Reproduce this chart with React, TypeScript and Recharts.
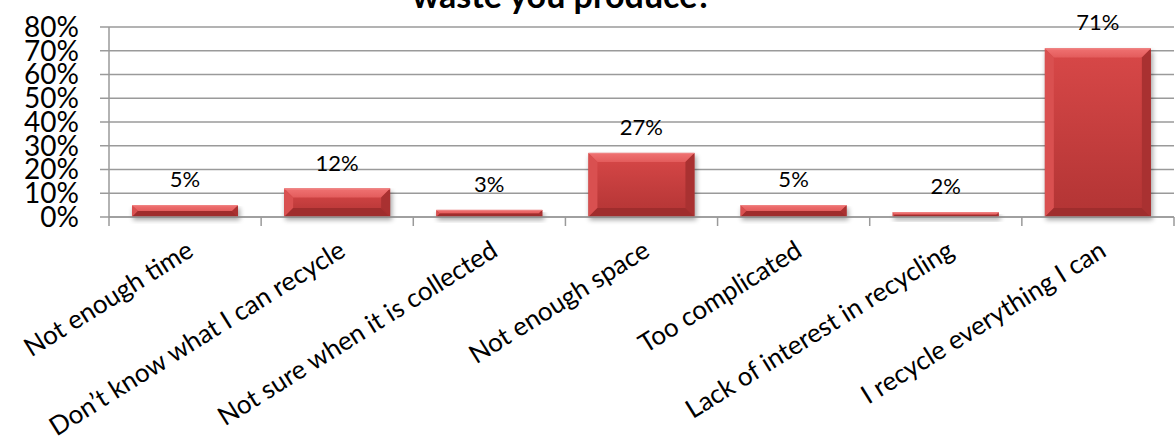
import React from 'react';
import { BarChart, Bar, XAxis, YAxis, CartesianGrid, LabelList } from 'recharts';

const categories = [
  'Not enough time',
  'Don\u2019t know what I can recycle',
  'Not sure when it is collected',
  'Not enough space',
  'Too complicated',
  'Lack of interest in recycling',
  'I recycle everything I can',
];
const shares = [5, 12, 3, 27, 5, 2, 71];
const yTicks = [0, 10, 20, 30, 40, 50, 60, 70, 80];

const W = 1176;
const H = 439;
const TOP = 27;
const AXIS_X = 109;
const RIGHT = 2;
const AXIS_Y = 217;
const BAND = (W - AXIS_X - RIGHT) / categories.length;
const FONT = 'Lato, "Open Sans", sans-serif';
const GRID = '#9a9a9a';

const data = categories.map((name, i) => ({ name, value: shares[i] }));

const BevelBar = (props: any) => {
  const { x, y, width, height } = props;
  if (!height || height <= 0) return null;
  const b = Math.min(9, height / 2, width / 2);
  const r = x + width;
  const bt = y + height;
  return (
    <g>
      <rect x={x + 1} y={y + 3} width={width + 1} height={height} fill="#000" opacity={0.35} filter="url(#barShadow)" />
      <rect x={x} y={y} width={width} height={height} fill="url(#barMain)" />
      <polygon points={`${x},${y} ${r},${y} ${r - b},${y + b} ${x + b},${y + b}`} fill="url(#barTop)" />
      <polygon points={`${x},${y} ${x + b},${y + b} ${x + b},${bt - b} ${x},${bt}`} fill="#d95050" />
      <polygon points={`${r},${y} ${r},${bt} ${r - b},${bt - b} ${r - b},${y + b}`} fill="#a93131" />
      <polygon points={`${x},${bt} ${x + b},${bt - b} ${r - b},${bt - b} ${r},${bt}`} fill="#9f2d2d" />
      <line x1={x} y1={y + 0.5} x2={r} y2={y + 0.5} stroke="#f08585" strokeWidth={1} />
    </g>
  );
};

const CategoryTick = (props: any) => {
  const { x, payload, index } = props;
  const left = x - BAND / 2;
  const ax = x + 10;
  const ay = AXIS_Y + 38;
  return (
    <g>
      <line x1={left} y1={AXIS_Y} x2={left} y2={AXIS_Y + 9} stroke={GRID} strokeWidth={1.5} />
      {index === categories.length - 1 && (
        <line x1={left + BAND} y1={AXIS_Y} x2={left + BAND} y2={AXIS_Y + 9} stroke={GRID} strokeWidth={1.5} />
      )}
      <text
        x={ax}
        y={ay}
        transform={`rotate(-32 ${ax} ${ay})`}
        textAnchor="end"
        fontSize={26}
        fontFamily={FONT}
        fill="#000"
      >
        {payload.value}
      </text>
    </g>
  );
};

const renderValue = (p: any) => (
  <text
    x={p.x + p.width / 2}
    y={p.y - 18}
    textAnchor="middle"
    fontSize={22}
    fontFamily={FONT}
    fill="#000"
  >
    {p.value}%
  </text>
);

export default function App() {
  return (
    <div style={{ position: 'absolute', left: 0, top: 0, width: W, height: H, background: '#fff' }}>
      <BarChart
        width={W}
        height={H}
        data={data}
        margin={{ top: TOP, right: RIGHT, left: 0, bottom: 0 }}
        barSize={106}
      >
        <defs>
          <linearGradient id="barMain" x1="0" y1="0" x2="0" y2="1">
            <stop offset="0%" stopColor="#d84848" />
            <stop offset="100%" stopColor="#b23434" />
          </linearGradient>
          <linearGradient id="barTop" x1="0" y1="0" x2="0" y2="1">
            <stop offset="0%" stopColor="#f07272" />
            <stop offset="100%" stopColor="#e35c5c" />
          </linearGradient>
          <filter id="barShadow" x="-10%" y="-10%" width="120%" height="140%">
            <feGaussianBlur stdDeviation="2.5" />
          </filter>
        </defs>
        <CartesianGrid vertical={false} stroke={GRID} strokeWidth={1.5} />
        <XAxis
          dataKey="name"
          interval={0}
          height={H - AXIS_Y}
          tickLine={false}
          axisLine={{ stroke: GRID, strokeWidth: 1.5 }}
          tick={<CategoryTick />}
        />
        <YAxis
          width={AXIS_X}
          domain={[0, 80]}
          ticks={yTicks}
          interval={0}
          tickFormatter={(v: number) => `${v}%`}
          tickSize={9}
          tickMargin={21}
          axisLine={{ stroke: GRID, strokeWidth: 1.5 }}
          tickLine={{ stroke: GRID, strokeWidth: 1.5 }}
          tick={{ fill: '#000', fontSize: 28, fontFamily: FONT }}
        />
        <Bar dataKey="value" shape={<BevelBar />} isAnimationActive={false}>
          <LabelList dataKey="value" content={renderValue} />
        </Bar>
      </BarChart>
      <svg
        width={W}
        height={H}
        style={{ position: 'absolute', left: 0, top: 0, pointerEvents: 'none' }}
      >
        <text x={562} y={8} textAnchor="middle" fontSize={34} fontWeight="bold" fontFamily={FONT} fill="#000">
          waste you produce?
        </text>
      </svg>
    </div>
  );
}
